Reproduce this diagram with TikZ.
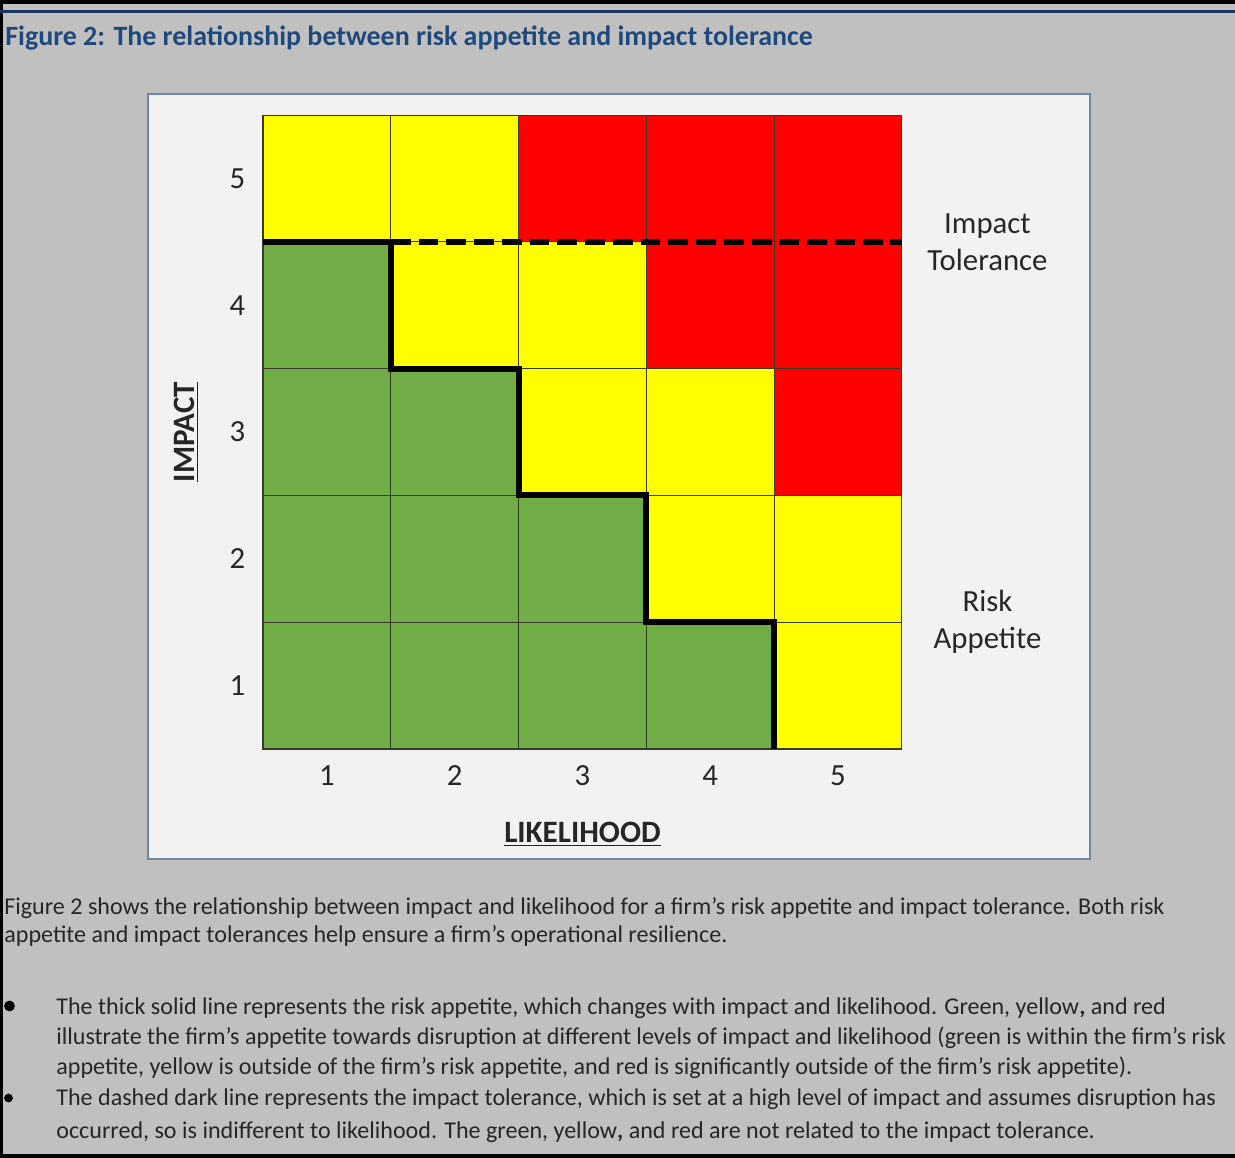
\documentclass[tikz,border=0pt]{standalone}
\usepackage{fontspec}
\setmainfont{Carlito}

\definecolor{pageGray}{HTML}{C0C0C0}
\definecolor{ruleBlue}{HTML}{17365D}
\definecolor{titleBlue}{HTML}{1F497D}
\definecolor{panelFill}{HTML}{F2F2F2}
\definecolor{panelLine}{HTML}{6F86A0}
\definecolor{riskG}{HTML}{70AD47}
\definecolor{riskY}{HTML}{FFFF00}
\definecolor{riskR}{HTML}{FF0000}
\definecolor{cellLine}{HTML}{3A3A2A}
\definecolor{bodyText}{HTML}{262626}

\begin{document}
\begin{tikzpicture}[x=0.02cm, y=-0.02cm,
    axisNum/.style={font=\fontsize{17.5}{21}\selectfont, text=bodyText},
    axisTitle/.style={font=\bfseries\fontsize{17.7}{21}\selectfont, text=bodyText},
    sideText/.style={font=\fontsize{17.5}{21}\selectfont, text=bodyText, align=center},
    bodyPara/.style={font=\fontsize{13.7}{15.9}\selectfont, text=bodyText, align=left, inner sep=0pt, anchor=north west},
    appetiteLine/.style={line width=3.4pt, black},
    toleranceLine/.style={line width=3.2pt, black, dash pattern=on 11.3pt off 4.5pt}]

    %% Risk appetite vs impact tolerance

    \newcommand{\riskCell}[3]{
        \filldraw[#3, draw=cellLine, line width=0.6pt] (#1-1,#2-1) rectangle (#1,#2);
    }

    \useasboundingbox (0,0) rectangle (1235,1158);

    % Page
    \fill[pageGray] (0,0) rectangle (1235,1158);
    \fill[black] (0,0) rectangle (1235,4);
    \fill[black] (0,1154) rectangle (1235,1158);
    \fill[black] (0,0) rectangle (3,1158);
    \fill[ruleBlue] (0,10.5) rectangle (1235,13.5);

    % Title
    \node[anchor=base west, inner sep=0pt, text=titleBlue, font=\bfseries\fontsize{15.9}{19}\selectfont]
        (title) at (5,46) {Figure 2: The relationship between risk appetite and impact tolerance};

    % Panel
    \draw[panelLine, fill=panelFill, line width=1.1pt] (148,94) rectangle (1090,859);

    \begin{scope}[shift={(263,749)}, x=2.556cm, y=2.536cm]
        % Cells
        \foreach \r/\row in {1/{G,G,G,G,Y}, 2/{G,G,G,Y,Y}, 3/{G,G,Y,Y,R}, 4/{G,Y,Y,R,R}, 5/{Y,Y,R,R,R}}
            \foreach \k [count=\c] in \row {
                \riskCell{\c}{\r}{risk\k}
            }

        % Lines
        \draw[toleranceLine] (1,4) -- (5,4);
        \draw[appetiteLine] (0,4) -- (1,4) -- (1,3) -- (2,3) -- (2,2) -- (3,2) -- (3,1) -- (4,1) -- (4,0);

        % Labels
        \foreach \n in {1,...,5} {
            \node[axisNum] (imp\n) at (-0.2,\n-0.5) {\n};
            \node[axisNum] (lik\n) at (\n-0.5,-0.21) {\n};
        }
        \node[axisTitle, rotate=90] (impactLabel) at (-0.6,2.5) {\underline{IMPACT}};
        \node[axisTitle] (likelihoodLabel) at (2.5,-0.67) {\underline{LIKELIHOOD}};
        \node[sideText] (toleranceLabel) at (5.67,4) {Impact\\Tolerance};
        \node[sideText] (appetiteLabel) at (5.67,1) {Risk\\Appetite};
    \end{scope}

    % Text below
    \node[bodyPara] (intro) at (4,897) {Figure 2 shows the relationship between impact and likelihood for a firm’s risk appetite and impact tolerance. Both risk\\
        appetite and impact tolerances help ensure a firm’s operational resilience.};

    \fill[black] (9.5,1006) circle (3.1pt);
    \node[bodyPara, font=\fontsize{13.7}{17.2}\selectfont] (bulletA) at (56,997) {The thick solid line represents the risk appetite, which changes with impact and likelihood. Green, yellow\textbf{,} and red\\
        illustrate the firm’s appetite towards disruption at different levels of impact and likelihood (green is within the firm’s risk\\
        appetite, yellow is outside of the firm’s risk appetite, and red is significantly outside of the firm’s risk appetite).};

    \fill[black] (8.5,1098) circle (2.5pt);
    \node[bodyPara, font=\fontsize{13.7}{17.2}\selectfont] (bulletB) at (56,1088) {The dashed dark line represents the impact tolerance, which is set at a high level of impact and assumes disruption has\\[2.1pt]
        occurred, so is indifferent to likelihood. The green, yellow\textbf{,} and red are not related to the impact tolerance.};

\end{tikzpicture}
\end{document}
